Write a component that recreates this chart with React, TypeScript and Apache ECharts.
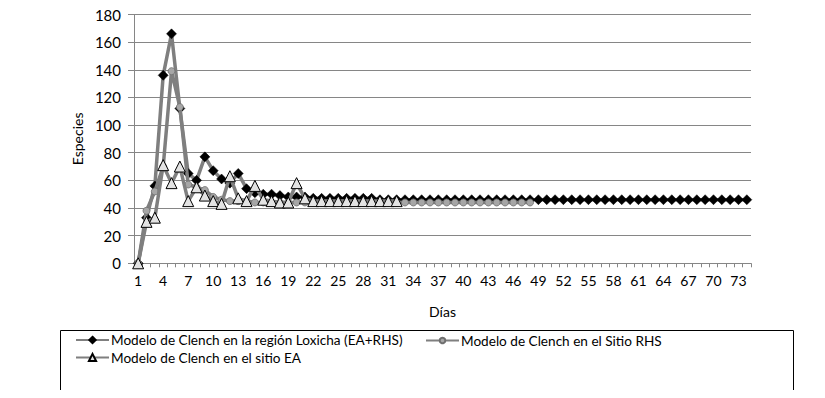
import React, { useEffect, useRef } from "react";
import * as echarts from "echarts";

const days: string[] = [
  "1","2","3","4","5","6","7","8","9","10","11","12","13","14","15","16","17","18","19","20",
  "21","22","23","24","25","26","27","28","29","30","31","32","33","34","35","36","37","38","39","40",
  "41","42","43","44","45","46","47","48","49","50","51","52","53","54","55","56","57","58","59","60",
  "61","62","63","64","65","66","67","68","69","70","71","72","73","74",
];

const loxicha: number[] = [
  0, 33, 56, 136, 166, 112, 65, 60, 77, 67, 61, 58, 65, 54, 51, 50, 50, 49, 48, 48,
  48, 47, 47, 47, 47, 47, 47, 47, 47, 46, 46, 46, 46, 46, 46, 46, 46, 46, 46, 46,
  46, 46, 46, 46, 46, 46, 46, 46, 46, 46, 46, 46, 46, 46, 46, 46, 46, 46, 46, 46,
  46, 46, 46, 46, 46, 46, 46, 46, 46, 46, 46, 46, 46, 46,
];

const rhs: number[] = [
  0, 38, 52, 70, 139, 113, 57, 55, 53, 48, 46, 45, 45, 45, 44, 44, 44, 44, 44, 44,
  44, 44, 44, 44, 44, 44, 44, 44, 44, 44, 44, 44, 44, 44, 44, 44, 44, 44, 44, 44,
  44, 44, 44, 44, 44, 44, 44, 44,
];

const ea: number[] = [
  0, 30, 33, 71, 58, 70, 45, 55, 49, 45, 43, 63, 47, 45, 56, 46, 45, 44, 44, 58,
  47, 45, 45, 45, 45, 45, 45, 45, 45, 45, 45, 45,
];

const seriesNames = [
  "Modelo de Clench en la región Loxicha (EA+RHS)",
  "Modelo de Clench en el Sitio RHS",
  "Modelo de Clench en el sitio EA",
];

const yTicks = { min: 0, max: 180, interval: 20 };

const FONT = "Lato";

export default function App() {
  const ref = useRef<HTMLDivElement>(null);
  useEffect(() => {
    if (!ref.current) return;
    const chart = echarts.init(ref.current, null, { renderer: "svg" });
    const lineColor = "#7f7f7f";
    const legendBase = {
      orient: "horizontal" as const,
      itemWidth: 33,
      itemGap: 0,
      textStyle: { fontFamily: FONT, fontSize: 13.6, color: "#000", padding: [0, 0, 0, -3] },
      padding: 0,
    };
    chart.setOption({
      animation: false,
      backgroundColor: "#fff",
      grid: { left: 134, right: 74, top: 14.5, bottom: 134.7, containLabel: false },
      xAxis: {
        type: "category",
        data: days,
        boundaryGap: true,
        name: "Días",
        nameLocation: "middle",
        nameGap: 41,
        nameTextStyle: { fontFamily: FONT, fontSize: 14, color: "#000" },
        axisLine: { lineStyle: { color: "#868686", width: 1 } },
        axisTick: { show: true, interval: 0, length: 4, lineStyle: { color: "#868686" } },
        axisLabel: { interval: 2, fontFamily: FONT, fontSize: 14, color: "#000", margin: 10 },
        splitLine: { show: false },
      },
      yAxis: {
        type: "value",
        min: yTicks.min,
        max: yTicks.max,
        interval: yTicks.interval,
        name: "Especies",
        nameLocation: "middle",
        nameGap: 46,
        nameTextStyle: { fontFamily: FONT, fontSize: 14, color: "#000" },
        axisLine: { show: true, lineStyle: { color: "#868686", width: 1 } },
        axisTick: { show: true, length: 6, lineStyle: { color: "#868686" } },
        axisLabel: { fontFamily: FONT, fontSize: 15, color: "#000", margin: 13 },
        splitLine: { show: true, lineStyle: { color: "#868686", width: 1 } },
      },
      legend: [
        { ...legendBase, left: 75, top: 333, itemHeight: 8, data: [seriesNames[0]] },
        { ...legendBase, left: 425, top: 333.5, itemHeight: 7, data: [seriesNames[1]] },
        { ...legendBase, left: 75, top: 350.5, itemHeight: 9, data: [seriesNames[2]] },
      ],
      graphic: [
        {
          type: "rect",
          shape: { x: 60.5, y: 330.5, width: 733, height: 62 },
          style: { fill: "none", stroke: "#000", lineWidth: 1 },
          silent: true,
        },
      ],
      series: [
        {
          name: seriesNames[0],
          type: "line",
          data: loxicha,
          symbol: "diamond",
          symbolSize: 10,
          showAllSymbol: true,
          lineStyle: { color: lineColor, width: 3.5 },
          itemStyle: { color: "#000", borderColor: "#000", borderWidth: 0.5 },
          z: 2,
        },
        {
          name: seriesNames[1],
          type: "line",
          data: rhs,
          symbol: "circle",
          symbolSize: 7,
          showAllSymbol: true,
          lineStyle: { color: lineColor, width: 3.5 },
          itemStyle: { color: "#a6a6a6", borderColor: "#6f6f6f", borderWidth: 0.8 },
          z: 3,
        },
        {
          name: seriesNames[2],
          type: "line",
          data: ea,
          symbol: "triangle",
          symbolSize: 11,
          showAllSymbol: true,
          lineStyle: { color: lineColor, width: 3.5 },
          itemStyle: { color: "#e3e3e3", borderColor: "#000", borderWidth: 1 },
          z: 4,
        },
      ],
    });
    return () => chart.dispose();
  }, []);
  return <div ref={ref} style={{ width: 825, height: 398, margin: -8 }} />;
}
